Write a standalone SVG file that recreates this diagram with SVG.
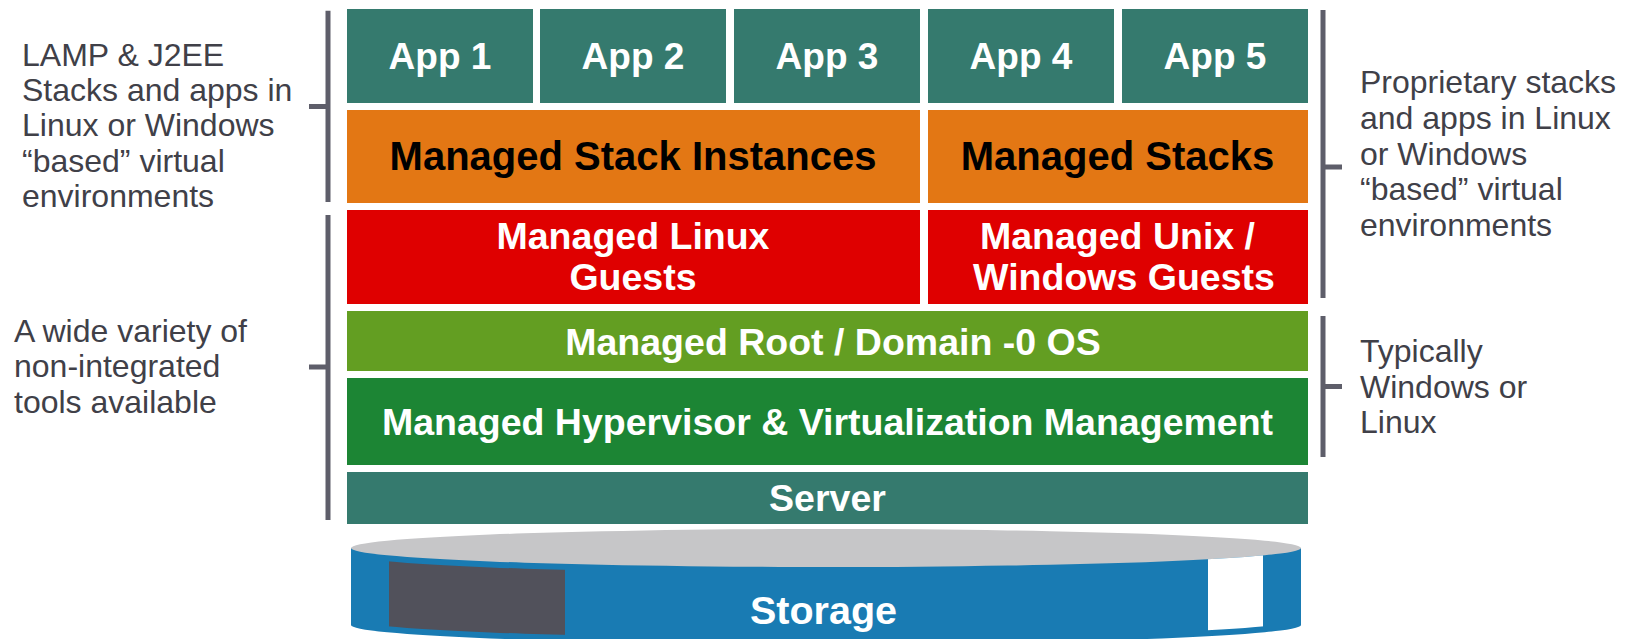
<svg xmlns="http://www.w3.org/2000/svg" width="1633" height="639" viewBox="0 0 1633 639">
<style>
  .teal{fill:#357a6e}
  .orange{fill:#e37714}
  .red{fill:#df0000}
  .lgreen{fill:#639e22}
  .dgreen{fill:#1c8534}
  .bt{font-family:"Liberation Sans",Arial,sans-serif;font-weight:bold;fill:#ffffff;text-anchor:middle}
  .bk{font-family:"Liberation Sans",Arial,sans-serif;font-weight:bold;fill:#000000;text-anchor:middle;font-size:40px}
  .note{font-family:"Liberation Sans",Arial,sans-serif;font-size:32px;fill:#404048}
  .br{stroke:#5e5e6a;stroke-width:5;fill:none}
</style>
<defs>
  <clipPath id="innerBand">
    <path d="M351,554 L351,619 A475,19 0 0 0 1301,619 L1301,554 A475,19 0 0 1 351,554 Z"/>
  </clipPath>
  <clipPath id="whiteBand">
    <path d="M351,548 L351,619 A475,19 0 0 0 1301,619 L1301,548 A475,19 0 0 1 351,548 Z"/>
  </clipPath>
</defs>

<g id="app1"><rect class="teal" x="347" y="9" width="186" height="94"/><text class="bt" x="440" y="69" font-size="37">App 1</text></g>
<g id="app2"><rect class="teal" x="540" y="9" width="186" height="94"/><text class="bt" x="633" y="69" font-size="37">App 2</text></g>
<g id="app3"><rect class="teal" x="734" y="9" width="186" height="94"/><text class="bt" x="827" y="69" font-size="37">App 3</text></g>
<g id="app4"><rect class="teal" x="928" y="9" width="186" height="94"/><text class="bt" x="1021" y="69" font-size="37">App 4</text></g>
<g id="app5"><rect class="teal" x="1122" y="9" width="186" height="94"/><text class="bt" x="1215" y="69" font-size="37">App 5</text></g>

<g id="stackInstances"><rect class="orange" x="347" y="110" width="573" height="93"/><text class="bk" x="633" y="170">Managed Stack Instances</text></g>
<g id="stacks"><rect class="orange" x="928" y="110" width="380" height="93"/><text class="bk" x="1117.5" y="170">Managed Stacks</text></g>

<g id="linuxGuests"><rect class="red" x="347" y="210" width="573" height="94"/><text class="bt" font-size="37.5" x="633" y="249">Managed Linux</text><text class="bt" font-size="37.5" x="633" y="290">Guests</text></g>
<g id="unixGuests"><rect class="red" x="928" y="210" width="380" height="94"/><text class="bt" font-size="37.5" x="1117.5" y="249">Managed Unix /</text><text class="bt" font-size="37.5" x="1124" y="290">Windows Guests</text></g>

<g id="rootOS"><rect class="lgreen" x="347" y="311" width="961" height="60"/><text class="bt" font-size="37.5" x="833" y="354.5">Managed Root / Domain -0 OS</text></g>
<g id="hypervisor"><rect class="dgreen" x="347" y="378" width="961" height="87"/><text class="bt" font-size="37.5" x="827.5" y="434.5">Managed Hypervisor &amp; Virtualization Management</text></g>
<g id="server"><rect class="teal" x="347" y="472" width="961" height="52"/><text class="bt" font-size="37.5" x="827.5" y="511">Server</text></g>

<g id="storage">
  <path d="M351,548 L351,625 A475,19 0 0 0 1301,625 L1301,548 Z" fill="#197bb3"/>
  <ellipse cx="826" cy="548" rx="475" ry="19" fill="#c6c6c8"/>
  <rect x="389" y="540" width="176" height="100" fill="#51515b" clip-path="url(#innerBand)"/>
  <rect x="1208" y="540" width="55" height="100" fill="#ffffff" clip-path="url(#whiteBand)"/>
  <text class="bt" font-size="39.5" x="823.5" y="623.5">Storage</text>
</g>

<g id="connectors">
  <path class="br" d="M328,10.7 V202 M309,106.5 H328"/>
  <path class="br" d="M328,215 V520 M309,367 H328"/>
  <path class="br" d="M1323,10 V298 M1323,167 H1342"/>
  <path class="br" d="M1323,316 V457 M1323,386.5 H1342"/>
</g>

<g id="noteLeftTop">
  <text class="note" x="22" y="65.7">LAMP &amp; J2EE</text>
  <text class="note" x="22" y="101">Stacks and apps in</text>
  <text class="note" x="22" y="136.3">Linux or Windows</text>
  <text class="note" x="22" y="171.6">“based” virtual</text>
  <text class="note" x="22" y="206.9">environments</text>
</g>
<g id="noteLeftBottom">
  <text class="note" x="14" y="341.7">A wide variety of</text>
  <text class="note" x="14" y="377.3">non-integrated</text>
  <text class="note" x="14" y="413">tools available</text>
</g>
<g id="noteRightTop">
  <text class="note" x="1360" y="93.3">Proprietary stacks</text>
  <text class="note" x="1360" y="128.9">and apps in Linux</text>
  <text class="note" x="1360" y="164.5">or Windows</text>
  <text class="note" x="1360" y="200.1">“based” virtual</text>
  <text class="note" x="1360" y="235.7">environments</text>
</g>
<g id="noteRightBottom">
  <text class="note" x="1360" y="361.7">Typically</text>
  <text class="note" x="1360" y="397.5">Windows or</text>
  <text class="note" x="1360" y="433.3">Linux</text>
</g>
</svg>
